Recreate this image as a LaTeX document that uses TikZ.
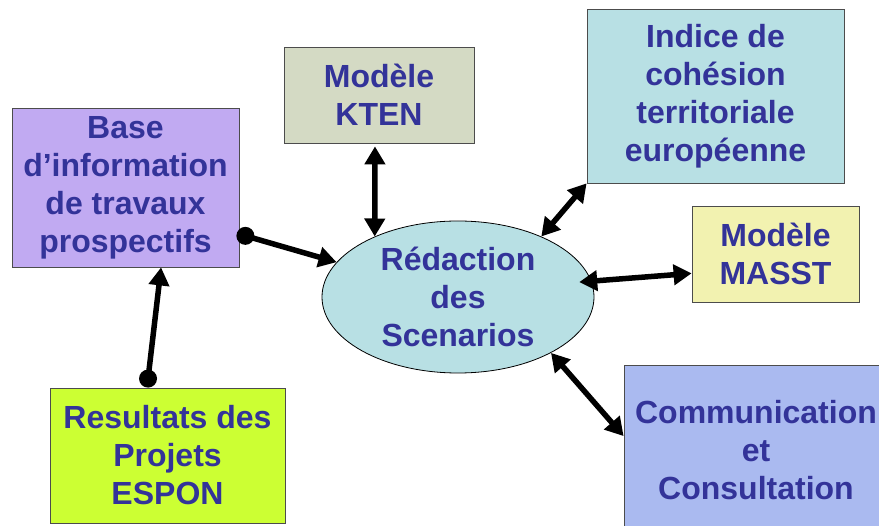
\documentclass[tikz,border=0pt]{standalone}
\usepackage{fontspec}
\setmainfont{Liberation Sans}
\usetikzlibrary{shapes.geometric,arrows.meta,calc}
\definecolor{txtblue}{RGB}{51,51,153}
\definecolor{cbase}{RGB}{193,170,242}
\definecolor{ckten}{RGB}{212,218,196}
\definecolor{cind}{RGB}{184,224,228}
\definecolor{cmasst}{RGB}{242,242,176}
\definecolor{cres}{RGB}{204,255,51}
\definecolor{ccomm}{RGB}{170,186,240}
\begin{document}
\begin{tikzpicture}[x=1pt,y=-1pt,
  boxlbl/.style={rectangle, draw=black!70, line width=0.8pt, inner sep=0pt, align=center,
    text=txtblue, font=\fontsize{32}{38}\selectfont\bfseries},
  conn/.style={line width=5.5pt, black},
  dbl/.style={conn, {Triangle[length=18pt,width=20pt]}-{Triangle[length=18pt,width=20pt]}},
  one/.style={conn, -{Triangle[length=18pt,width=20pt]}}]
\clip (0,0) rectangle (879,526);
\node[boxlbl, fill=cbase, minimum width=227pt, minimum height=159pt] (base) at (125.5,187.5)
  {Base\\d’information\\de travaux\\prospectifs};
\node[boxlbl, fill=ckten, minimum width=190pt, minimum height=96pt] (kten) at (379,95)
  {Modèle\\KTEN};
\node[boxlbl, fill=cind, minimum width=257pt, minimum height=174pt] (ind) at (715.5,96)
  {Indice de\\cohésion\\territoriale\\européenne};
\node[boxlbl, fill=cmasst, minimum width=167pt, minimum height=96pt] (masst) at (775.5,254)
  {Modèle\\MASST};
\node[boxlbl, fill=cres, minimum width=235pt, minimum height=135pt] (res) at (167.5,455.5)
  {Resultats des\\Projets\\ESPON};
\node[boxlbl, fill=ccomm, minimum width=264pt, minimum height=170pt] (comm) at (756,450)
  {Communication\\et\\Consultation};
\node[boxlbl, ellipse, fill=cind, draw=black, minimum width=272pt, minimum height=152pt] (ell) at (458,297)
  {Rédaction\\des\\Scenarios};
% connectors
\coordinate (bdot) at ([xshift=6pt]base.-23);
\coordinate (rdot) at ([yshift=9pt]res.106);
\draw[one] (bdot) -- (ell.164);
\fill (bdot) circle (9pt);
\draw[one] (rdot) -- (base.-66);
\fill (rdot) circle (9pt);
\draw[dbl] ([xshift=-4pt,yshift=-3pt]kten.south) -- (ell.144);
\draw[dbl] (ind.south west) -- (ell.36);
\draw[dbl] (masst.193) -- ($(ell.center)!0.91!(ell.7)$);
\draw[dbl] (comm.174) -- (ell.-31);
\end{tikzpicture}
\end{document}
